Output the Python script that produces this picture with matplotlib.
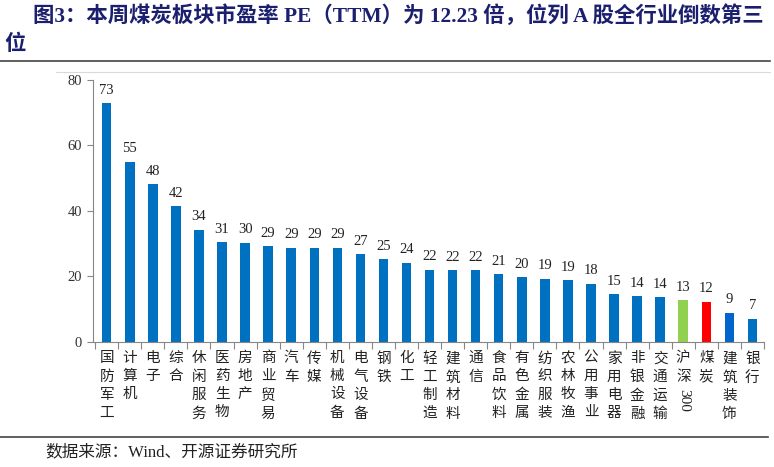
import matplotlib
matplotlib.use('Agg')
import matplotlib.pyplot as plt
import numpy as np

# --- DATA ---
industries = ['国防军工', '计算机', '电子', '综合', '休闲服务', '医药生物', '房地产', '商业贸易',
              '汽车', '传媒', '机械设备', '电气设备', '钢铁', '化工', '轻工制造', '建筑材料',
              '通信', '食品饮料', '有色金属', '纺织服装', '农林牧渔', '公用事业', '家用电器',
              '非银金融', '交通运输', '沪深300', '煤炭', '建筑装饰', '银行']
pe_values = [72.9, 55.1, 48.2, 41.5, 34.2, 30.5, 30.3, 29.2, 28.8, 28.8, 28.8, 26.8, 25.3, 24.2,
             22.0, 21.9, 21.9, 20.7, 19.8, 19.3, 18.9, 17.7, 14.5, 14.0, 13.7, 12.7, 12.23, 9.0, 7.1]
pe_labels = [73, 55, 48, 42, 34, 31, 30, 29, 29, 29, 29, 27, 25, 24, 22, 22, 22, 21, 20, 19, 19,
             18, 15, 14, 14, 13, 12, 9, 7]
y_ticks = [0, 20, 40, 60, 80]

SERIF_CJK = ['Liberation Serif', 'Noto Sans CJK SC']
BLUE = '#0070C0'
colors = [BLUE] * len(industries)
colors[industries.index('沪深300')] = '#92D050'
colors[industries.index('煤炭')] = '#FF0000'
colors[industries.index('建筑装饰')] = '#0066CC'

fig = plt.figure(figsize=(7.74, 4.67), dpi=100)
ax = fig.add_axes([0.120, 0.2677, 0.867, 0.561])

x = np.arange(len(industries))
ax.bar(x, pe_values, color=colors, width=0.41)

for xi, v, lab in zip(x, pe_values, pe_labels):
    ax.text(xi, v + 2.0, str(lab), ha='center', va='bottom', fontsize=10.5,
            family=SERIF_CJK, color='#222222')

ax.set_xlim(-0.6, len(industries) - 0.5)
ax.set_ylim(0, 80)
ax.set_yticks(y_ticks)
ax.set_yticklabels([str(t) for t in y_ticks], family=SERIF_CJK, fontsize=10.5, color='#333333')

# category ticks sit on the boundaries between bars
ax.set_xticks(np.arange(len(industries) + 1) - 0.5)
ax.set_xticklabels([])
ax.tick_params(axis='x', length=5, color='#868686', width=0.8)
ax.tick_params(axis='y', length=4, color='#868686', width=0.8, pad=4)

for s in ['top', 'right']:
    ax.spines[s].set_visible(False)
for s in ['left', 'bottom']:
    ax.spines[s].set_color('#868686')
    ax.spines[s].set_linewidth(0.8)

# vertical (stacked) category labels; digits run sideways like Excel does
char_step = 5.35  # data units per stacked character
for xi, name in zip(x, industries):
    cjk = ''.join(c for c in name if not c.isdigit())
    digits = ''.join(c for c in name if c.isdigit())
    ax.text(xi, -3.0, '\n'.join(cjk), ha='center', va='top', fontsize=10.5,
            family=SERIF_CJK, color='#222222', linespacing=1.5)
    if digits:
        ax.text(xi, -3.6 - char_step * len(cjk), digits, ha='center', va='top', fontsize=11,
                family=SERIF_CJK, color='#222222', rotation=270)

# title
title_color = '#1B1F6E'
fig.text(33 / 774, 1 - 16 / 467, '图3：本周煤炭板块市盈率 PE（TTM）为 12.23 倍，位列 A 股全行业倒数第三',
         ha='left', va='center', fontsize=15.4, weight='bold', family=SERIF_CJK, color=title_color)
fig.text(4 / 774, 1 - 45 / 467, '位', ha='left', va='center', fontsize=15.4, weight='bold',
         family=SERIF_CJK, color=title_color)

# frame lines
fig.add_artist(plt.Line2D([0, 770 / 774], [1 - 61 / 467] * 2, color='#444444', lw=1.2))
fig.add_artist(plt.Line2D([56 / 774, 770 / 774], [1 - 72 / 467] * 2, color='#D9D9D9', lw=0.8))
fig.add_artist(plt.Line2D([0, 768 / 774], [1 - 437 / 467] * 2, color='#444444', lw=1.2))

fig.text(45 / 774, 1 - 452 / 467, '数据来源：Wind、开源证券研究所', ha='left', va='center',
         fontsize=12, family=SERIF_CJK, color='#222222')

fig.savefig('out.png', dpi=100)
